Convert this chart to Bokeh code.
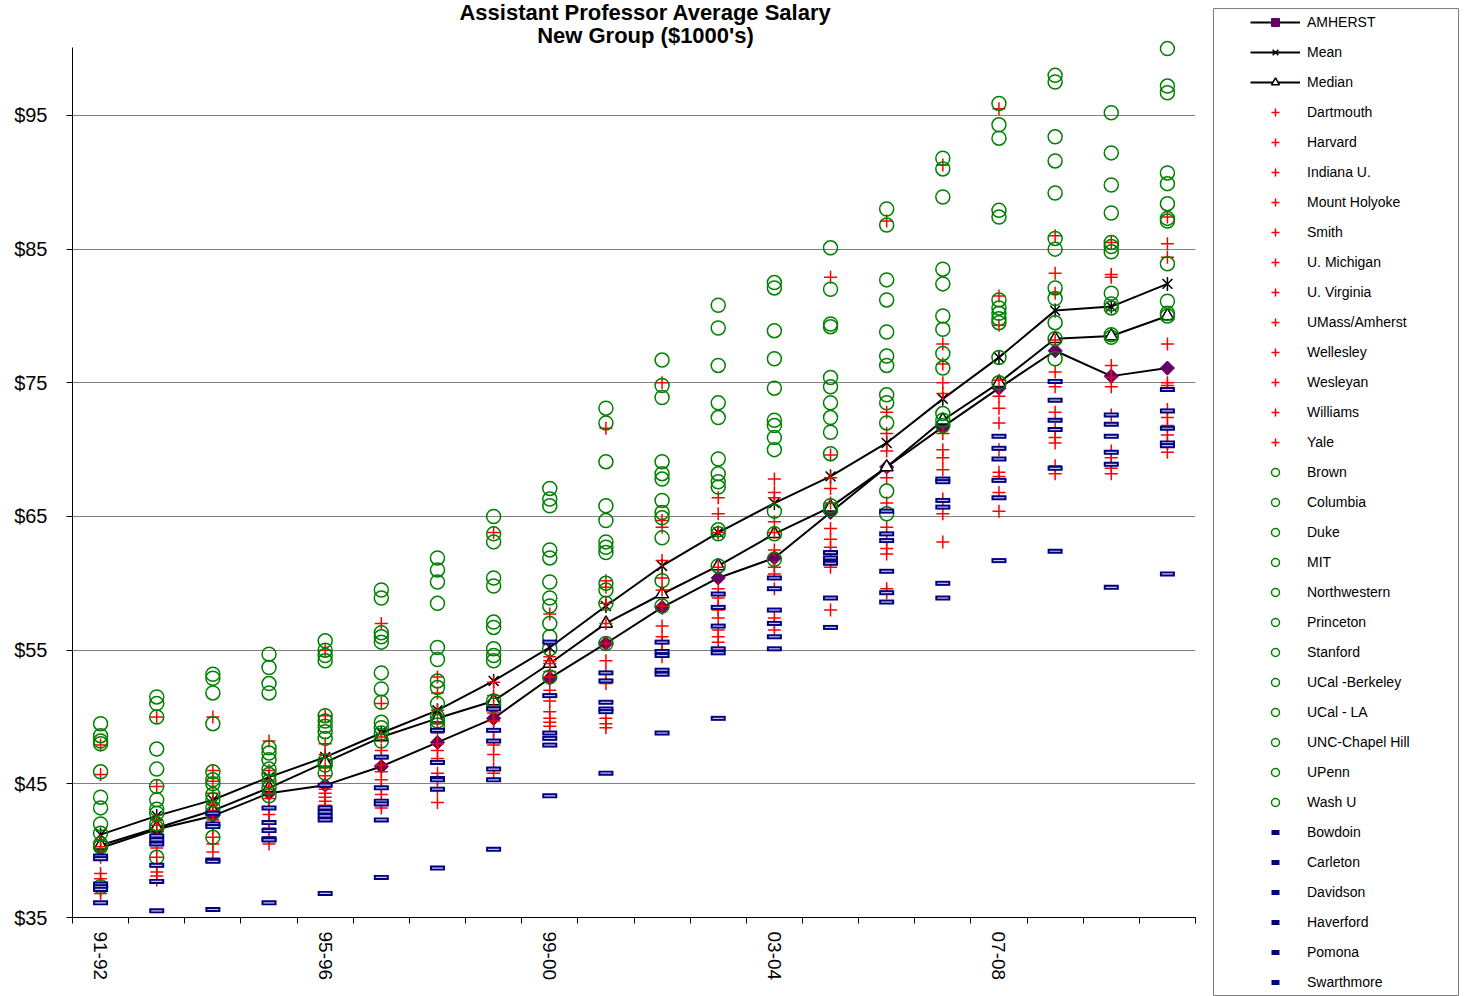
import math
from bokeh.plotting import figure
from bokeh.layouts import row
from bokeh.models import FixedTicker, Legend, LegendItem, Label, Range1d
from bokeh.embed import file_html
from bokeh.resources import INLINE

YEARS = ["91-92", "92-93", "93-94", "94-95", "95-96", "96-97", "97-98", "98-99", "99-00", "00-01",
         "01-02", "02-03", "03-04", "04-05", "05-06", "06-07", "07-08", "08-09", "09-10", "10-11"]
X = list(range(len(YEARS)))
Y_TICKS = [35, 45, 55, 65, 75, 85, 95]
Y_TICK_LABELS = ["$35", "$45", "$55", "$65", "$75", "$85", "$95"]
TITLE_LINES = ["Assistant Professor Average Salary", "New Group ($1000's)"]

AMHERST = [40.2, 41.6, 42.6, 44.3, 44.9, 46.3, 48.1, 49.9, 52.9, 55.5, 58.2, 60.4, 61.9, 65.3, 68.7, 71.7, 74.6, 77.4, 75.5, 76.1]
MEAN = [41.2, 42.6, 43.8, 45.5, 47.0, 48.8, 50.5, 52.7, 55.2, 58.3, 61.3, 63.8, 66.0, 68.0, 70.5, 73.8, 76.9, 80.4, 80.7, 82.4]
MEDIAN = [40.4, 41.7, 43.0, 44.7, 46.6, 48.5, 49.9, 51.2, 54.0, 57.0, 59.2, 61.3, 63.7, 65.7, 68.7, 72.2, 75.0, 78.3, 78.5, 80.0]

# red "+" group
DARTMOUTH = [47.9, 50.0, 50.0, 48.2, 55.0, 57.0, 53.0, 63.8, 57.7, 71.6, 75.0, 66.4, 67.8, 82.9, 87.1, 91.3, 95.5, 86.0, 85.5, 87.4]
HARVARD = [45.7, 44.8, 46.0, 46.0, 50.1, 51.0, 51.8, 52.6, 54.5, 60.2, 64.7, 65.2, 66.8, 69.6, 72.8, 77.9, 81.5, 83.2, 83.1, 85.4]
INDIANA = [40.7, 42.3, 45.2, 45.2, 48.0, 48.5, 50.5, 51.6, 54.2, 59.7, 64.2, 63.8, 66.4, 67.9, 71.2, 76.4, 79.3, 81.7, 82.9, 84.4]
MOUNT_HOLYOKE = [40.3, 41.9, 44.3, 44.8, 47.2, 47.5, 49.5, 50.8, 54.0, 58.5, 61.7, 61.2, 64.6, 67.1, 69.9, 75.0, 75.2, 78.2, 76.3, 77.9]
SMITH = [40.0, 41.5, 43.5, 44.3, 46.2, 46.9, 48.8, 50.3, 53.4, 57.0, 60.4, 59.6, 63.8, 66.0, 67.9, 74.2, 74.0, 75.8, 75.4, 75.0]
U_MICHIGAN = [39.5, 41.0, 43.0, 43.9, 45.6, 46.4, 48.0, 49.7, 53.0, 55.5, 59.5, 58.9, 62.5, 64.1, 66.0, 71.2, 73.1, 74.7, 74.7, 74.8]
U_VIRGINIA = [38.3, 40.2, 42.3, 43.2, 45.0, 45.9, 47.5, 49.0, 52.0, 54.2, 58.3, 58.3, 61.2, 63.3, 64.2, 70.0, 72.0, 72.8, 72.6, 73.0]
UMASS = [37.9, 39.5, 42.0, 42.7, 44.6, 45.3, 46.9, 48.3, 51.2, 53.3, 56.8, 58.0, 60.7, 62.7, 63.2, 69.4, 70.0, 71.5, 69.9, 72.4]
WELLESLEY = [37.5, 38.8, 41.7, 42.2, 44.3, 44.7, 45.8, 47.9, 50.4, 52.5, 56.0, 57.4, 59.6, 62.2, 62.6, 68.5, 68.3, 70.9, 69.4, 71.8]
WESLEYAN = [37.3, 38.4, 41.0, 41.7, 44.0, 44.2, 45.4, 47.2, 49.9, 49.9, 55.6, 56.5, 57.4, 61.7, 62.2, 66.3, 68.0, 70.5, 69.0, 71.1]
WILLIAMS = [37.0, 38.1, 40.5, 41.0, 43.7, 43.5, 44.6, 46.2, 49.6, 49.5, 55.0, 56.0, 56.9, 61.2, 59.6, 65.2, 66.8, 68.8, 68.6, 70.5]
YALE = [36.8, 37.8, 39.9, 40.5, 43.4, 43.2, 43.6, 45.8, 49.3, 49.2, 54.5, 55.6, 56.5, 58.0, 59.3, 63.1, 65.4, 68.2, 68.2, 69.8]

# green "o" group
BROWN = [49.5, 51.5, 53.2, 54.7, 55.7, 59.5, 61.9, 65.0, 67.1, 73.1, 76.7, 80.8, 82.5, 85.1, 88.0, 91.8, 95.9, 98.0, 95.2, 100.0]
COLUMBIA = [48.6, 51.0, 52.9, 53.7, 55.0, 58.9, 61.0, 63.7, 66.3, 72.0, 74.8, 79.1, 82.1, 82.0, 86.8, 91.0, 94.3, 97.5, 92.2, 97.2]
DUKE = [48.2, 50.0, 51.8, 52.5, 54.6, 56.3, 60.1, 63.1, 65.8, 69.1, 73.9, 76.3, 78.9, 79.4, 82.7, 88.9, 93.3, 93.4, 89.8, 96.7]
MIT = [48.0, 47.6, 49.5, 51.8, 54.2, 56.0, 58.5, 60.4, 62.5, 65.8, 69.1, 73.5, 76.8, 79.2, 81.2, 83.5, 87.9, 91.6, 87.7, 90.7]
NORTHWESTERN = [45.9, 46.1, 45.9, 47.7, 50.1, 55.6, 55.2, 59.8, 61.9, 64.7, 68.2, 72.4, 74.6, 75.4, 78.8, 82.4, 87.4, 89.2, 85.5, 89.9]
PRINCETON = [44.0, 44.8, 45.3, 47.3, 49.7, 53.3, 54.3, 57.1, 60.1, 63.1, 67.8, 69.3, 72.2, 74.7, 77.0, 80.0, 81.2, 85.8, 85.2, 88.4]
STANFORD = [43.2, 43.8, 45.0, 46.8, 49.3, 52.1, 52.7, 56.7, 58.9, 62.7, 66.2, 68.2, 71.8, 73.5, 76.3, 79.0, 80.6, 85.0, 84.8, 87.3]
UCAL_BERKELEY = [42.0, 43.1, 44.2, 46.1, 48.9, 51.1, 52.2, 55.1, 58.3, 62.3, 65.3, 67.6, 70.9, 72.4, 74.1, 77.2, 80.2, 82.1, 81.7, 87.1]
UCAL_LA = [41.3, 42.8, 43.8, 45.7, 48.4, 49.6, 51.0, 54.6, 57.0, 60.0, 64.9, 67.2, 70.0, 71.3, 73.5, 76.1, 79.8, 81.3, 80.9, 83.9]
UNC = [40.5, 42.0, 43.2, 45.2, 46.7, 49.2, 50.0, 54.2, 56.0, 59.5, 63.4, 64.0, 65.4, 69.7, 72.0, 72.7, 79.5, 79.5, 80.6, 81.1]
UPENN = [40.3, 41.7, 42.8, 44.7, 46.4, 48.8, 49.7, 51.2, 55.1, 58.5, 60.2, 63.7, 63.7, 65.8, 66.9, 72.2, 76.9, 78.3, 78.6, 80.2]
WASH_U = [37.3, 39.5, 41.0, 44.1, 45.8, 48.2, 49.4, 50.9, 53.0, 55.5, 58.3, 61.3, 61.8, 65.5, 65.2, 71.8, 75.0, 76.8, 78.4, 80.0]

# blue "-" group
BOWDOIN = [39.6, 41.1, 42.8, 43.2, 44.9, 47.0, 49.0, 50.6, 55.6, 53.3, 55.6, 59.2, 60.4, 62.3, 65.4, 67.8, 71.0, 75.1, 72.6, 74.5]
CARLETON = [39.4, 40.8, 42.0, 42.1, 43.2, 44.7, 46.6, 49.0, 51.6, 52.7, 54.9, 58.2, 59.6, 61.9, 63.7, 67.6, 70.1, 73.7, 71.9, 72.9]
DAVIDSON = [37.5, 40.5, 41.8, 41.5, 42.9, 43.7, 45.4, 48.2, 48.8, 51.1, 54.6, 56.8, 58.0, 61.6, 63.2, 66.2, 69.3, 72.2, 71.0, 71.6]
HAVERFORD = [37.3, 38.9, 39.3, 40.9, 42.6, 43.5, 45.3, 46.1, 48.4, 50.6, 53.5, 55.1, 57.0, 61.5, 60.9, 65.7, 67.7, 71.5, 69.8, 70.5]
POMONA = [37.1, 37.7, 39.2, 40.8, 42.3, 42.3, 44.6, 45.3, 47.9, 50.4, 53.2, 54.8, 56.0, 58.9, 59.3, 60.0, 66.4, 68.6, 68.9, 70.3]
SWARTHMORE = [36.1, 35.5, 35.6, 36.1, 36.8, 38.0, 38.7, 40.1, 44.1, 45.8, 48.8, 49.9, 55.1, 56.7, 58.6, 58.9, 61.7, 62.4, 59.7, 60.7]

RED_NAMES = ["Dartmouth", "Harvard", "Indiana U.", "Mount Holyoke", "Smith", "U. Michigan",
             "U. Virginia", "UMass/Amherst", "Wellesley", "Wesleyan", "Williams", "Yale"]
RED_VALUES = [DARTMOUTH, HARVARD, INDIANA, MOUNT_HOLYOKE, SMITH, U_MICHIGAN,
              U_VIRGINIA, UMASS, WELLESLEY, WESLEYAN, WILLIAMS, YALE]
GREEN_NAMES = ["Brown", "Columbia", "Duke", "MIT", "Northwestern", "Princeton", "Stanford",
               "UCal -Berkeley", "UCal - LA", "UNC-Chapel Hill", "UPenn", "Wash U"]
GREEN_VALUES = [BROWN, COLUMBIA, DUKE, MIT, NORTHWESTERN, PRINCETON, STANFORD,
                UCAL_BERKELEY, UCAL_LA, UNC, UPENN, WASH_U]
BLUE_NAMES = ["Bowdoin", "Carleton", "Davidson", "Haverford", "Pomona", "Swarthmore"]
BLUE_VALUES = [BOWDOIN, CARLETON, DAVIDSON, HAVERFORD, POMONA, SWARTHMORE]

FONT = "Liberation Sans"
Y_AXIS_TOP = 100.1   # where the value axis line ends (style)


def add_series(fig):
    """Draw every series on fig; return (label, renderers) pairs for a legend."""
    out = []
    am_line = fig.line(X, AMHERST, line_color="black", line_width=2)
    am_mark = fig.scatter(X, AMHERST, marker="square", angle=math.pi / 4, size=10,
                          fill_color="#660066", line_color="#660066")
    out.append(("AMHERST", [am_line, am_mark]))

    mean_line = fig.line(X, MEAN, line_color="black", line_width=2)
    mean_x = fig.scatter(X, MEAN, marker="x", size=14, line_color="black", line_width=1.5)
    mean_v = fig.scatter(X, MEAN, marker="dash", angle=math.pi / 2, size=14,
                         line_color="black", line_width=1.5)
    out.append(("Mean", [mean_line, mean_x, mean_v]))

    med_line = fig.line(X, MEDIAN, line_color="black", line_width=2)
    med_mark = fig.scatter(X, MEDIAN, marker="triangle", size=13, fill_color="white",
                           line_color="black", line_width=1.5)
    out.append(("Median", [med_line, med_mark]))

    for name, vals in zip(RED_NAMES, RED_VALUES):
        r = fig.scatter(X, vals, marker="cross", size=13, line_color="#ff0000", line_width=1.5)
        out.append((name, [r]))

    for name, vals in zip(GREEN_NAMES, GREEN_VALUES):
        r = fig.scatter(X, vals, marker="circle", size=14, fill_color=None,
                        line_color="#008000", line_width=1.5)
        out.append((name, [r]))

    for name, vals in zip(BLUE_NAMES, BLUE_VALUES):
        r = fig.scatter(X, vals, marker="dash", size=15, line_color="#000080", line_width=5)
        fig.scatter(X, vals, marker="dash", size=11, line_color="#c4c4ee", line_width=1.2)
        out.append((name, [r]))
    return out


# ---------------- main chart ----------------
p = figure(width=1212, height=996, x_range=Range1d(-0.5, 19.5), y_range=Range1d(35, 103.6),
           output_backend="svg", toolbar_location=None, title=None,
           min_border_left=72, min_border_bottom=79, min_border_top=0, min_border_right=17)
p.frame_align = False
p.outline_line_color = None
p.xgrid.visible = False
p.ygrid.grid_line_color = "#808080"
p.ygrid.grid_line_width = 1

p.yaxis.ticker = FixedTicker(ticks=Y_TICKS)
p.yaxis.bounds = (Y_TICKS[0], Y_AXIS_TOP)
p.yaxis.major_label_overrides = {t: l for t, l in zip(Y_TICKS, Y_TICK_LABELS)}
p.yaxis.major_label_text_font = FONT
p.yaxis.major_label_text_font_size = "20px"
p.yaxis.major_label_text_color = "black"
p.yaxis.major_tick_out = 6
p.yaxis.major_tick_in = 0
p.yaxis.minor_tick_line_color = None
p.yaxis.major_label_standoff = 19
p.yaxis.axis_line_color = "black"

p.xaxis.ticker = FixedTicker(ticks=[0, 4, 8, 12, 16], minor_ticks=[i - 0.5 for i in range(21)])
p.xaxis.major_label_overrides = {i: YEARS[i] for i in range(0, 20, 4)}
p.xaxis.major_label_orientation = -math.pi / 2
p.xaxis.major_tick_line_color = None
p.xaxis.major_tick_out = 6
p.xaxis.major_tick_in = 0
p.xaxis.minor_tick_line_color = "black"
p.xaxis.minor_tick_out = 6
p.xaxis.minor_tick_in = 0
p.xaxis.major_label_standoff = 8
p.xaxis.major_label_text_font = FONT
p.xaxis.major_label_text_font_size = "19px"
p.xaxis.major_label_text_color = "black"
p.xaxis.axis_line_color = "black"

add_series(p)

# two-line title inside the top of the frame (screen units: y measured up from frame bottom)
for text, y_off in zip(TITLE_LINES, [905, 882]):
    p.add_layout(Label(x=573, y=y_off, x_units="screen", y_units="screen", text=text,
                       text_align="center", text_baseline="middle", text_font=FONT,
                       text_font_size="22px", text_font_style="bold", text_color="black"))

# ---------------- legend panel ----------------
lg = figure(width=248, height=996, x_range=Range1d(0, 1), y_range=Range1d(0, 1),
            output_backend="svg", toolbar_location=None, title=None,
            x_axis_location=None, y_axis_location=None,
            min_border_left=1, min_border_right=2, min_border_top=8, min_border_bottom=1)
lg.frame_align = False
lg.grid.visible = False
lg.outline_line_color = "#808080"
lg.outline_line_width = 1
pairs = add_series(lg)
items = [LegendItem(label=lab, renderers=rs) for lab, rs in pairs]
legend = Legend(items=items, location=(37, 3), glyph_width=50, glyph_height=20, label_height=20,
                spacing=10, padding=0, margin=0, label_standoff=7, ncols=1,
                label_text_font=FONT, label_text_font_size="14px", label_text_color="black",
                border_line_color=None, background_fill_alpha=0)
lg.add_layout(legend)

open("out.html", "w").write(file_html(row(p, lg), INLINE))
